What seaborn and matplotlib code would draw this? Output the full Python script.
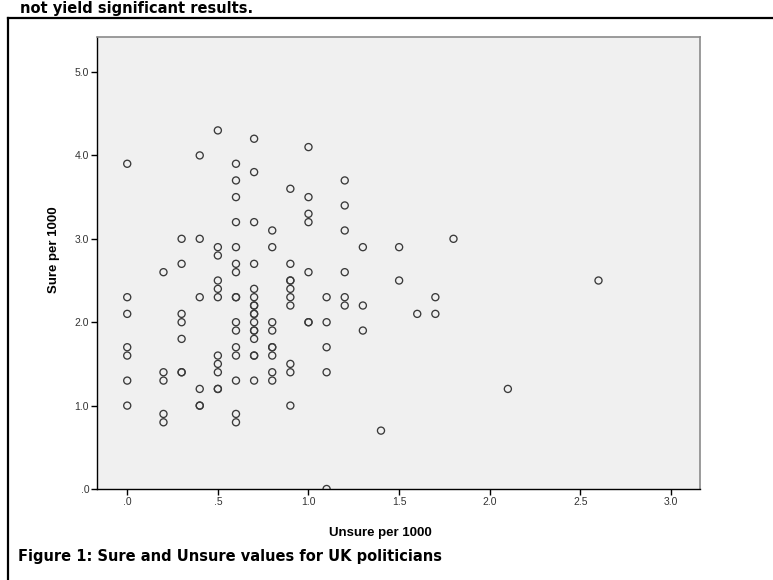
import numpy as np
import pandas as pd
import matplotlib
matplotlib.use("Agg")
import matplotlib.pyplot as plt
import seaborn as sns
from matplotlib.lines import Line2D

# valores (Unsure, Sure por 1000)
unsure = [0.0] * 7 + [0.2] * 5 + [0.3] * 7 + [0.4] * 6 + [0.5] * 11 + [0.6] * 16 \
    + [0.7] * 17 + [0.8] * 9 + [0.9] * 10 + [1.0] * 7 + [1.1] * 5 + [1.2] * 6 \
    + [1.3] * 3 + [1.4] + [1.5] * 2 + [1.6] + [1.7] * 2 + [1.8] + [2.1] + [2.6]
sure = [3.9, 2.3, 2.1, 1.7, 1.6, 1.3, 1.0,
        2.6, 1.4, 1.3, 0.9, 0.8,
        3.0, 2.7, 2.1, 2.0, 1.8, 1.4, 1.4,
        4.0, 3.0, 2.3, 1.2, 1.0, 1.0,
        4.3, 2.9, 2.8, 2.5, 2.4, 2.3, 1.6, 1.5, 1.4, 1.2, 1.2,
        3.9, 3.7, 3.5, 3.2, 2.9, 2.7, 2.6, 2.3, 2.3, 2.0, 1.9, 1.7, 1.6, 1.3, 0.9, 0.8,
        4.2, 3.8, 3.2, 2.7, 2.4, 2.3, 2.2, 2.2, 2.1, 2.1, 2.0, 1.9, 1.9, 1.8, 1.6, 1.6, 1.3,
        3.1, 2.9, 2.0, 1.9, 1.7, 1.7, 1.6, 1.4, 1.3,
        3.6, 2.7, 2.5, 2.5, 2.4, 2.3, 2.2, 1.5, 1.4, 1.0,
        4.1, 3.5, 3.3, 3.2, 2.6, 2.0, 2.0,
        2.3, 2.0, 1.7, 1.4, 0.0,
        3.7, 3.4, 3.1, 2.6, 2.3, 2.2,
        2.9, 2.2, 1.9,
        0.7,
        2.9, 2.5,
        2.1,
        2.3, 2.1,
        3.0,
        1.2,
        2.5]

x_ticks = [0, 0.5, 1.0, 1.5, 2.0, 2.5, 3.0]
x_labels = [".0", ".5", "1.0", "1.5", "2.0", "2.5", "3.0"]
y_ticks = [0, 1, 2, 3, 4, 5]
y_labels = [".0", "1.0", "2.0", "3.0", "4.0", "5.0"]

df = pd.DataFrame({"Unsure per 1000": unsure, "Sure per 1000": sure})

W, H = 773, 580
fig = plt.figure(figsize=(W / 100, H / 100), dpi=100)
fig.patch.set_facecolor("white")

sans = ["Liberation Sans", "DejaVu Sans"]

# caja del area de trazado (pixeles)
left, right, top, bottom = 97.5, 700, 37, 489
ax = fig.add_axes([left / W, 1 - bottom / H, (right - left) / W, (bottom - top) / H])
ax.set_facecolor("#f0f0f0")

sns.scatterplot(data=df, x="Unsure per 1000", y="Sure per 1000", ax=ax,
                marker="o", s=26, facecolor="none", edgecolor="#3a3a3a",
                linewidth=0.95, legend=False, clip_on=True)

ax.set_xlim(-0.164, 3.16)
ax.set_ylim(0, 5.42)
ax.set_xticks(x_ticks)
ax.set_xticklabels(x_labels)
ax.set_yticks(y_ticks)
ax.set_yticklabels(y_labels)
ax.tick_params(direction="out", length=4, width=1, color="black",
               labelsize=7.5, labelcolor="#333333", pad=2)
for lab in ax.get_xticklabels() + ax.get_yticklabels():
    lab.set_family(sans)

for s in ["left", "bottom"]:
    ax.spines[s].set_color("black")
    ax.spines[s].set_linewidth(1.0)
for s in ["top", "right"]:
    ax.spines[s].set_color("#8a8a8a")
    ax.spines[s].set_linewidth(1.2)

ax.set_xlabel("Unsure per 1000", fontsize=9.5, fontweight="bold", family=sans)
ax.set_ylabel("Sure per 1000", fontsize=9.5, fontweight="bold", family=sans)
ax.xaxis.set_label_coords(0.47, -0.085)
ax.yaxis.set_label_coords(-0.062, 0.529)

# marco negro del documento
fig.add_artist(Line2D([8 / W, 8 / W], [0, 1 - 18 / H], color="black", lw=1.6,
                      transform=fig.transFigure))
fig.add_artist(Line2D([8 / W, 1], [1 - 18 / H, 1 - 18 / H], color="black", lw=1.6,
                      transform=fig.transFigure))

fig.text(20 / W, 1 - 13 / H, "not yield significant results.", fontsize=10.5,
         fontweight="bold", family="DejaVu Sans", va="baseline", ha="left")
fig.text(18 / W, 1 - 561 / H, "Figure 1: Sure and Unsure values for UK politicians",
         fontsize=10.5, fontweight="bold", family="DejaVu Sans", va="baseline", ha="left")

fig.savefig("out.png", dpi=100)
